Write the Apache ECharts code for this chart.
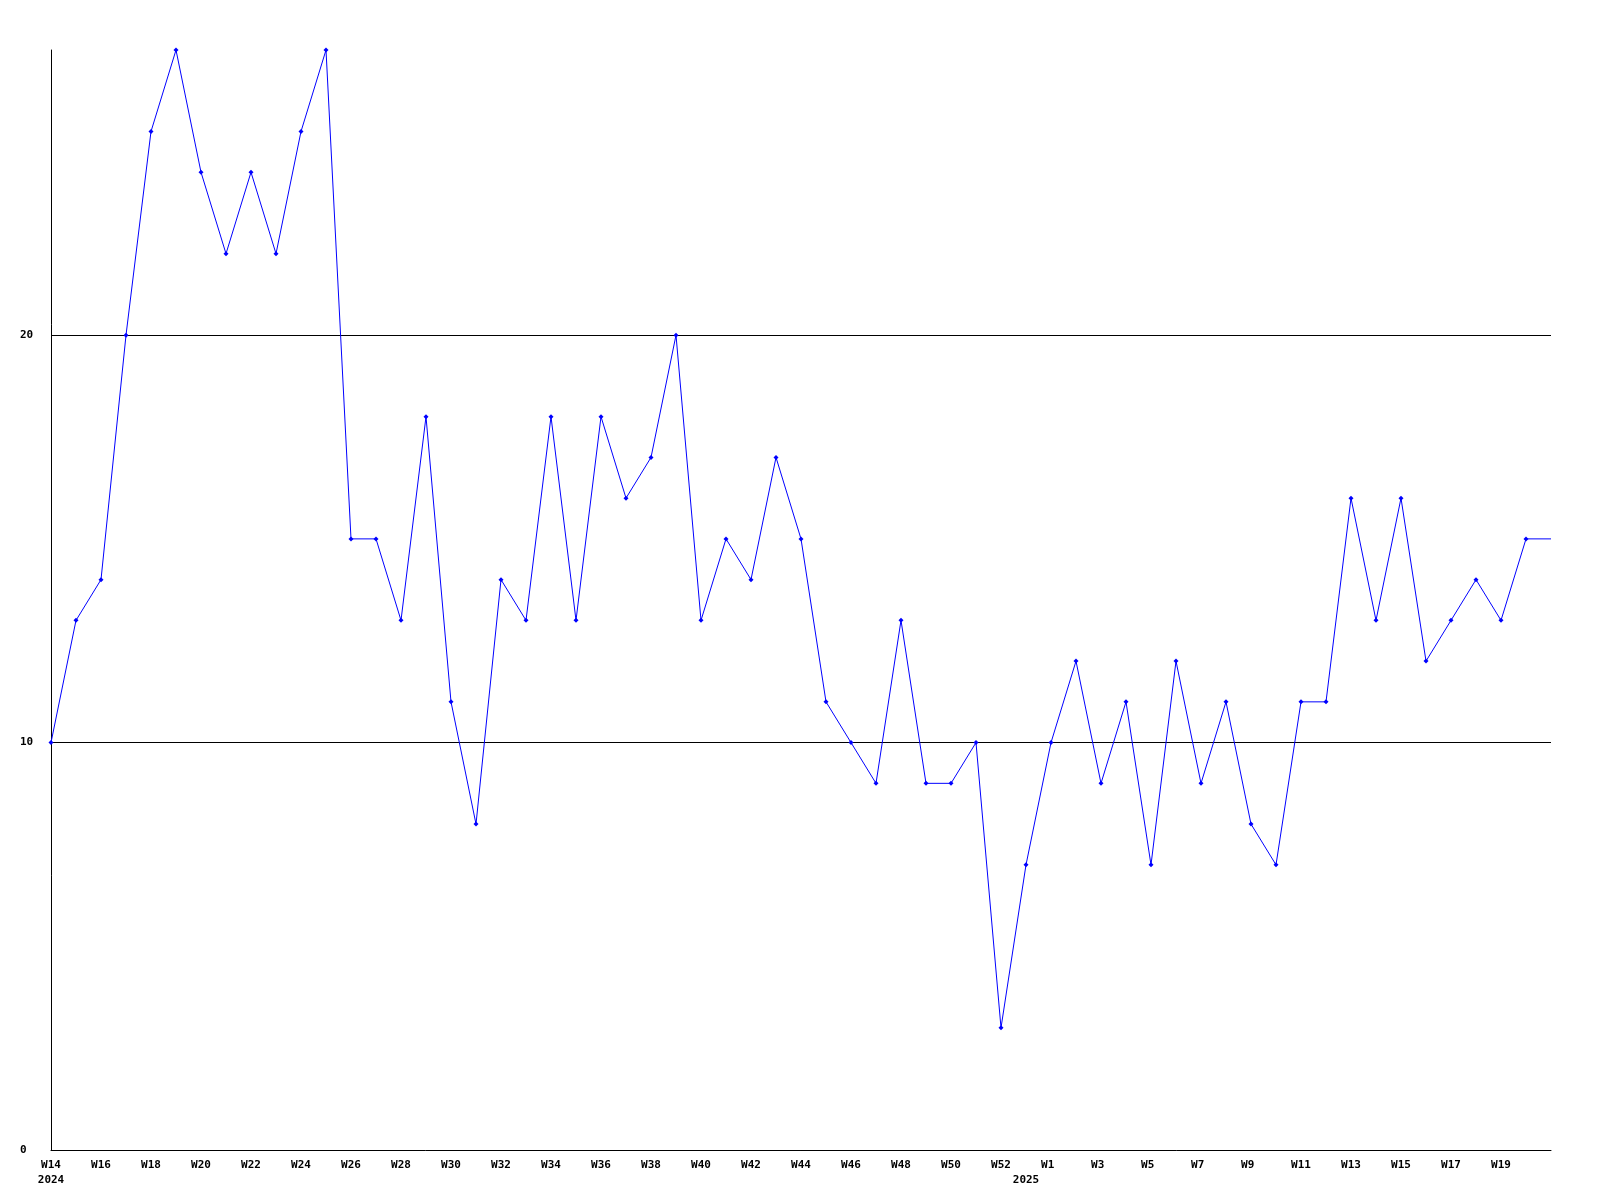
<!DOCTYPE html>
<html>
<head>
<meta charset="utf-8">
<script src="https://cdn.jsdelivr.net/npm/echarts@6/dist/echarts.min.js"></script>
<style>html,body{margin:0;padding:0;background:#fff}#c{width:1600px;height:1200px}</style>
</head>
<body>
<div id="c"></div>
<script>
const weeks = [
  "W14","W15","W16","W17","W18","W19","W20","W21","W22","W23","W24","W25","W26","W27","W28","W29","W30",
  "W31","W32","W33","W34","W35","W36","W37","W38","W39","W40","W41","W42","W43","W44","W45","W46","W47",
  "W48","W49","W50","W51","W52","W53",
  "W1","W2","W3","W4","W5","W6","W7","W8","W9","W10","W11","W12","W13","W14","W15","W16","W17","W18",
  "W19","W20","W21"
];
const tickLabels = [
  "W14\n2024","","W16","","W18","","W20","","W22","","W24","","W26","","W28","","W30",
  "","W32","","W34","","W36","","W38","","W40","","W42","","W44","","W46","",
  "W48","","W50","","W52","\n2025",
  "W1 ","","W3 ","","W5 ","","W7 ","","W9 ","","W11","","W13","","W15","","W17","",
  "W19","",""
];
const values = [
  10,13,14,20,25,27,24,22,24,22,25,27,15,15,13,18,11,
  8,14,13,18,13,18,16,17,20,13,15,14,17,15,11,10,9,
  13,9,9,10,3,7,
  10,12,9,11,7,12,9,11,8,7,11,11,16,13,16,12,13,14,
  13,15,15
];
const yTicks = [0, 10, 20];

const chart = echarts.init(document.getElementById('c'), null, {renderer: 'canvas'});
const font = {fontFamily: 'DejaVu Sans Mono', fontWeight: 'bold', fontSize: 11, color: '#000'};
chart.setOption({
  animation: false,
  backgroundColor: '#fff',
  grid: {left: 51, right: 49, top: 50, bottom: 50, containLabel: false},
  xAxis: {
    type: 'category',
    data: weeks,
    boundaryGap: false,
    axisLine: {show: true, lineStyle: {color: '#000', width: 1}},
    axisTick: {show: false},
    splitLine: {show: false},
    axisLabel: Object.assign({}, font, {
      interval: 0,
      margin: 8,
      lineHeight: 15,
      formatter: function (v, i) { return tickLabels[i]; }
    })
  },
  yAxis: {
    type: 'value',
    min: 0,
    max: 27,
    interval: 10,
    axisLine: {show: true, lineStyle: {color: '#000', width: 1}},
    axisTick: {show: false},
    splitLine: {show: true, showMaxLine: false, showMinLine: false, lineStyle: {color: '#000', width: 1}},
    axisLabel: Object.assign({}, font, {
      margin: 31,
      align: 'left',
      showMaxLabel: false,
      formatter: function (v) { return yTicks.indexOf(v) >= 0 ? String(v) : ''; }
    })
  },
  series: [{
    type: 'line',
    data: values,
    symbol: function (v, p) { return p.dataIndex === values.length - 1 ? 'none' : 'diamond'; },
    symbolSize: 5,
    showAllSymbol: true,
    lineStyle: {color: '#0000ff', width: 1},
    itemStyle: {color: '#0000ff'},
    clip: true
  }]
});
</script>
</body>
</html>
